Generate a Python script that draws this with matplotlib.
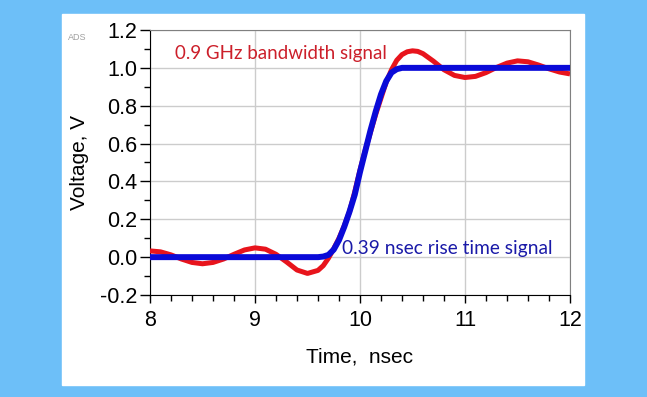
import matplotlib.pyplot as plt

# red trace: 0.9 GHz bandwidth signal (time in nsec, volts)
red_t = [8.0, 8.1, 8.2, 8.3, 8.4, 8.5, 8.6, 8.7, 8.8, 8.9, 9.0, 9.1, 9.2, 9.3,
         9.4, 9.5, 9.6, 9.65, 9.7, 9.75, 9.8, 9.85, 9.9, 9.95, 10.0, 10.05,
         10.1, 10.15, 10.2, 10.25, 10.3, 10.35, 10.4, 10.45, 10.5, 10.55, 10.6,
         10.7, 10.8, 10.9, 11.0, 11.1, 11.2, 11.3, 11.4, 11.5, 11.6, 11.7,
         11.8, 11.9, 12.0]
red_v = [0.033, 0.028, 0.012, -0.010, -0.028, -0.035, -0.028, -0.010, 0.015,
         0.038, 0.049, 0.042, 0.015, -0.025, -0.068, -0.086, -0.070, -0.045,
         -0.005, 0.045, 0.10, 0.165, 0.24, 0.345, 0.46, 0.565, 0.66, 0.755,
         0.84, 0.925, 0.99, 1.04, 1.07, 1.085, 1.09, 1.087, 1.075, 1.035,
         0.99, 0.96, 0.949, 0.955, 0.975, 1.002, 1.025, 1.037, 1.032, 1.015,
         0.995, 0.978, 0.968]

# blue trace: 0.39 nsec rise time signal
blue_t = [8.0, 9.0, 9.6, 9.65, 9.7, 9.75, 9.8, 9.85, 9.9, 9.95, 10.0, 10.05,
          10.1, 10.15, 10.2, 10.25, 10.3, 10.35, 10.4, 11.0, 12.0]
blue_v = [0.0, 0.0, 0.0, 0.003, 0.012, 0.04, 0.09, 0.16, 0.24, 0.33, 0.45,
          0.56, 0.67, 0.77, 0.86, 0.93, 0.975, 0.993, 1.0, 1.0, 1.0]

x_ticks = [8, 9, 10, 11, 12]
y_ticks = [-0.2, 0.0, 0.2, 0.4, 0.6, 0.8, 1.0, 1.2]

fig = plt.figure(figsize=(6.47, 3.97), dpi=100)
fig.patch.set_facecolor('#6dbff8')
# white panel behind the plot
fig.patches.append(plt.Rectangle((62/647, 1-385/397), 522/647, 371/397,
                                 transform=fig.transFigure, color='white', zorder=-5))

ax = fig.add_axes([150/647, 1-295/397, 420/647, 265/397])
ax.plot(red_t, red_v, color='#e8141c', lw=3.6, solid_capstyle='butt', zorder=3)
ax.plot(blue_t, blue_v, color='#0a0ad8', lw=4.3, solid_capstyle='butt', zorder=4)

ax.set_xlim(8, 12)
ax.set_ylim(-0.2, 1.2)
ax.set_xticks(x_ticks)
ax.set_yticks(y_ticks)
ax.set_xticklabels([str(v) for v in x_ticks])
ax.set_yticklabels(['%.1f' % v for v in y_ticks])
ax.set_xticks([8 + 0.2*i for i in range(21)], minor=True)
ax.set_yticks([-0.2 + 0.1*i for i in range(15)], minor=True)

font = 'Liberation Sans'
for lab in ax.get_xticklabels() + ax.get_yticklabels():
    lab.set_fontfamily(font)
    lab.set_fontsize(15.5)
ax.tick_params(axis='y', which='major', length=7, width=1, pad=2)
ax.tick_params(axis='y', which='minor', length=4, width=1)
ax.tick_params(axis='x', which='major', length=6, width=1, pad=5)
ax.tick_params(axis='x', which='minor', length=4, width=1)

ax.grid(True, which='major', color='#cccccc', lw=1.0)
ax.set_axisbelow(True)
for side in ['top', 'right']:
    ax.spines[side].set_color('#808080')
for side in ['left', 'bottom']:
    ax.spines[side].set_color('black')

ax.set_ylabel('Voltage, V', fontfamily=font, fontsize=15, labelpad=8)
ax.set_xlabel('Time,  nsec', fontfamily=font, fontsize=15, labelpad=12)

ax.text(8.24, 1.075, '0.9 GHz bandwidth signal', color='#cc1f2a',
        fontfamily='Lato', fontsize=13.5, va='center', ha='left')
ax.text(9.83, 0.048, '0.39 nsec rise time signal', color='#1a1aa8',
        fontfamily='Lato', fontsize=13.8, va='center', ha='left')

fig.text(68/647, 1-38/397, 'ADS', color='#a0a0a0', fontsize=6.5,
         fontfamily=font, va='center', ha='left')

fig.savefig('out.png', dpi=100)
